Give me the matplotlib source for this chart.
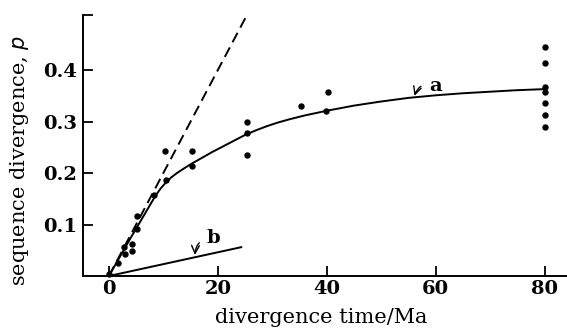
import matplotlib
matplotlib.use("Agg")
import matplotlib.pyplot as plt

# observed data points (divergence time in Ma, sequence divergence p)
pts_x = [0, 1.6, 2.8, 2.9, 4.2, 4.3, 5.2, 5.2, 8.3, 10.5, 10.3, 15.2, 15.3,
         25.3, 25.3, 25.3, 35.2, 40.2, 39.9,
         80, 80, 80, 80, 80, 80, 80]
pts_y = [0.004, 0.026, 0.057, 0.043, 0.063, 0.049, 0.091, 0.117, 0.157, 0.186, 0.243, 0.243, 0.214,
         0.300, 0.277, 0.236, 0.330, 0.358, 0.321,
         0.445, 0.413, 0.368, 0.358, 0.336, 0.313, 0.289]

# fitted curve a
curve_a_x = [0, 2, 4, 6, 7.5, 8.5, 9.5, 10.5, 11.5, 12.5, 13.5, 15, 17, 19, 21, 23, 25,
             27, 29, 31, 33, 36, 40, 45, 50, 55, 60, 65, 70, 75, 80]
curve_a_y = [0, 0.037, 0.074, 0.110, 0.137, 0.155, 0.170, 0.182, 0.192, 0.200, 0.207,
             0.217, 0.229, 0.241, 0.252, 0.263, 0.274, 0.283, 0.291, 0.298, 0.304,
             0.312, 0.321, 0.331, 0.339, 0.346, 0.351, 0.355, 0.358, 0.361, 0.363]

# line b
line_b_x = [0, 24.3]
line_b_y = [0, 0.056]

# dashed initial-slope line
dash_x = [0, 25.4]
dash_y = [0, 0.508]

xticks = [0, 20, 40, 60, 80]
yticks = [0.1, 0.2, 0.3, 0.4]
xlim = (-4.75, 84.1)
ylim = (0, 0.507)

plt.rcParams['font.family'] = ['DejaVu Serif']
fig = plt.figure(figsize=(5.67, 3.32), dpi=100)
ax = fig.add_axes([83/567, 56/332, 1 - 83/567, 261/332])

ax.plot(dash_x, dash_y, color='black', lw=1.4, dashes=(5.5, 3))
ax.plot(curve_a_x, curve_a_y, color='black', lw=1.4)
ax.plot(line_b_x, line_b_y, color='black', lw=1.4)
ax.plot(pts_x, pts_y, 'o', color='black', ms=4.6, mec='none', clip_on=False)

ax.set_xlim(*xlim)
ax.set_ylim(*ylim)

ax.set_xticks(xticks)
ax.set_xticklabels([str(t) for t in xticks], fontweight='bold', fontsize=14)
ax.set_yticks(yticks + [ylim[1]])
ax.set_yticklabels([f"{t:.1f}" for t in yticks] + [''], fontweight='bold', fontsize=14)
ax.tick_params(direction='in', length=7, width=1.3, pad=4)
ax.tick_params(axis='x', pad=3)

for s in ['top', 'right']:
    ax.spines[s].set_visible(False)
for s in ['left', 'bottom']:
    ax.spines[s].set_linewidth(1.4)

ax.set_xlabel('divergence time/Ma', fontsize=15)
ax.set_ylabel('sequence divergence, $\\mathit{p}$', fontsize=15)
ax.xaxis.set_label_coords(0.493, -0.124)
ax.yaxis.set_label_coords(-0.107, 0.444)

ax.annotate('a', xy=(56.1, 0.350), xytext=(59.9, 0.370), fontsize=14, fontweight='bold',
            ha='center', va='center',
            arrowprops=dict(arrowstyle='->', color='black', lw=1.0,
                            connectionstyle='arc3,rad=0.5', shrinkA=4, shrinkB=0))
ax.annotate('b', xy=(15.8, 0.041), xytext=(19.2, 0.073), fontsize=14, fontweight='bold',
            ha='center', va='center',
            arrowprops=dict(arrowstyle='->', color='black', lw=1.0,
                            connectionstyle='arc3,rad=0.5', shrinkA=4, shrinkB=0))

fig.savefig('out.png', dpi=100)
